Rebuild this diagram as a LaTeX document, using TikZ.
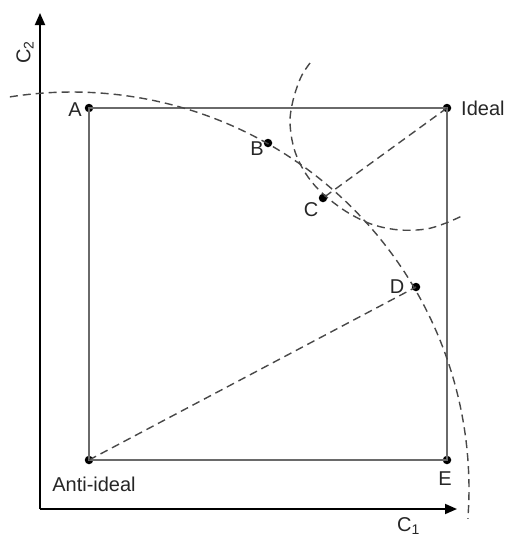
\documentclass[tikz,border=0pt]{standalone}
\usepackage{fontspec}
\setmainfont{Liberation Sans}
\usetikzlibrary{arrows.meta}
\definecolor{rectgray}{HTML}{6A6A6A}
\definecolor{dashgray}{HTML}{484848}
\definecolor{txt}{HTML}{262626}
\begin{document}
\begin{tikzpicture}[x=1pt,y=-1pt,
  axis/.style={line width=1.8pt,black,-{Triangle[length=12pt,width=10pt]}},
  frame/.style={line width=1.4pt,rectgray},
  dashline/.style={line width=1.4pt,dashgray,dash pattern=on 8pt off 5pt},
  dot/.style={circle,fill=black,inner sep=0pt,minimum size=8.5pt},
  lbl/.style={font=\fontsize{20}{23}\selectfont,text=txt,inner sep=0pt}]
\useasboundingbox (0,0) rectangle (504,536);
% axes
\coordinate (O) at (40,509);
\coordinate (Ytip) at (40,13);
\coordinate (Xtip) at (457,509);
\draw[axis] (O) -- (Ytip);
\draw[axis] (O) -- (Xtip);
% points
\node[dot] (A) at (89,108) {};
\node[dot] (I) at (447,108) {};
\node[dot] (N) at (89,460) {};
\node[dot] (E) at (447,460) {};
\node[dot] (B) at (268,143) {};
\node[dot] (C) at (323,198) {};
\node[dot] (D) at (416,287) {};
% frame
\draw[frame] (A.center) -- (I.center) -- (E.center) -- (N.center) -- cycle;
% dashed connectors
\draw[dashline] (I.center) -- (C.center);
\draw[dashline] (N.center) -- (D.center);
% big arc
\draw[dashline] plot[domain=99:-4.3,samples=120,variable=\t] ({72+397*cos(\t)},{489-397*sin(\t)});
% small arc
\draw[dashline] plot[smooth,tension=0.6] coordinates {(310,63) (302,75) (296,90) (292,105) (290,121) (292,140) (297,157) (306,174) (318,189) (334,203) (352,215) (374,225) (400,230) (426,229) (446,223) (464,215)};
% labels
\node[lbl] (lA) at (75,110) {A};
\node[lbl] (lB) at (257,149) {B};
\node[lbl] (lC) at (311,210) {C};
\node[lbl] (lD) at (397,287) {D};
\node[lbl,anchor=west] (lI) at (461,108) {Ideal};
\node[lbl] (lE) at (445,479) {E};
\node[lbl] (lN) at (94,484) {Anti-ideal};
\node[lbl,anchor=west] (lC1) at (397,526) {C\textsubscript{1}};
\node[lbl,rotate=90,anchor=west] (lC2) at (25,64) {C\textsubscript{2}};
\end{tikzpicture}
\end{document}
